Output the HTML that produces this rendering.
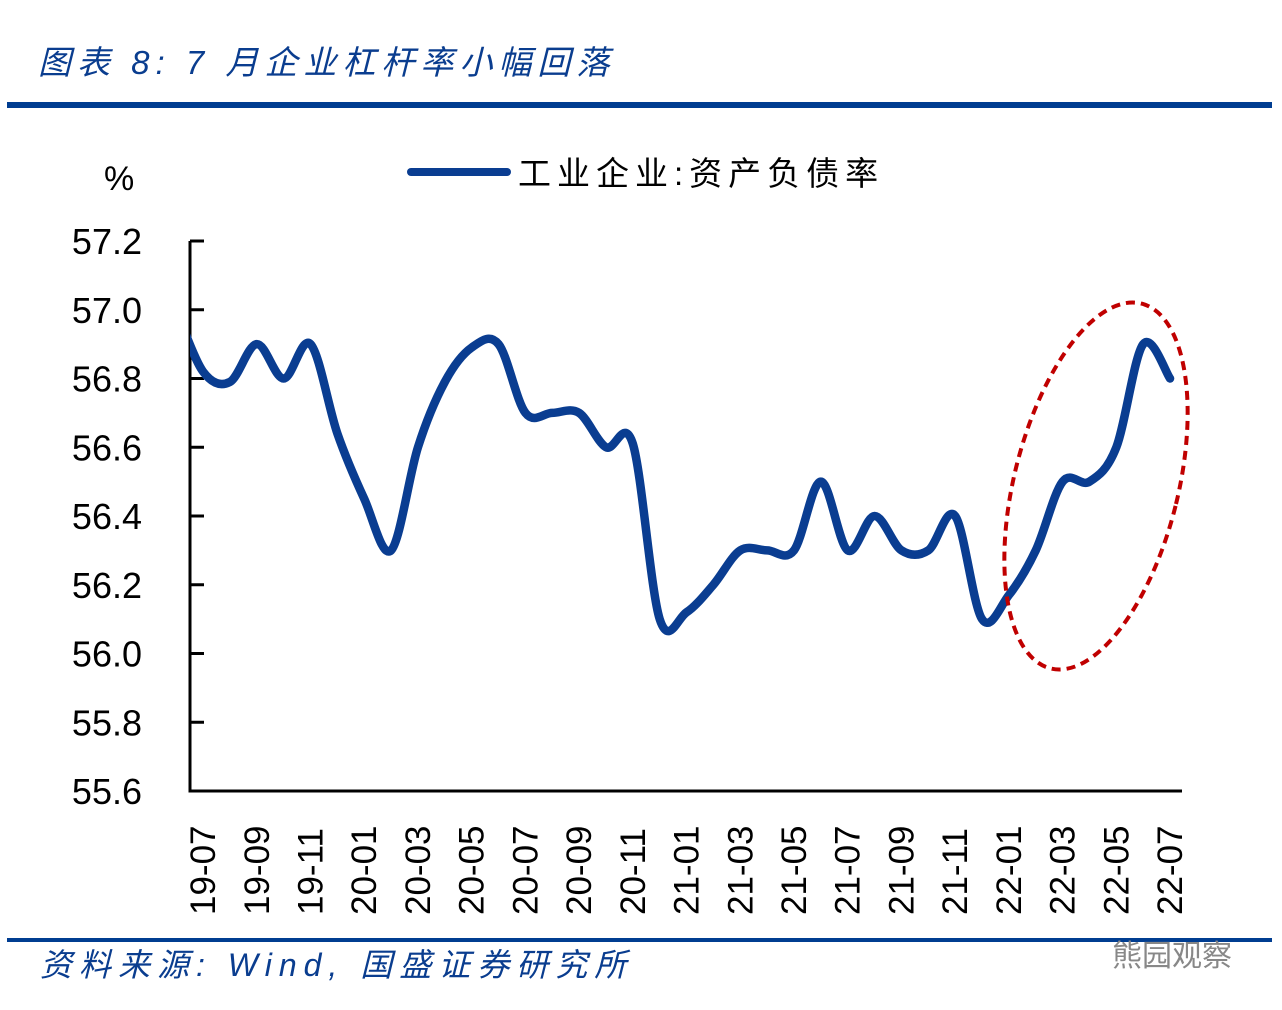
<!DOCTYPE html>
<html><head><meta charset="utf-8"><style>
html,body{margin:0;padding:0;background:#fff;width:1282px;height:1010px;overflow:hidden}
svg{display:block}
</style></head><body>
<svg id="chart" width="1282" height="1010" xmlns="http://www.w3.org/2000/svg">
<text x="38" y="74" font-size="33" font-style="italic" letter-spacing="6" fill="#0a3d8f" font-family="Liberation Sans, Noto Sans CJK SC, sans-serif">图表 8:  7 月企业杠杆率小幅回落</text>
<rect x="7" y="102" width="1265" height="6" fill="#003d91"/>
<text x="104" y="190" font-size="34" fill="#000" font-family="Liberation Sans, sans-serif">%</text>
<g>
<line x1="411" y1="172" x2="507" y2="172" stroke="#0a3d91" stroke-width="8" stroke-linecap="round"/>
<text x="518" y="185" font-size="33" letter-spacing="6" fill="#000" font-family="Liberation Sans, Noto Sans CJK SC, sans-serif">工业企业:资产负债率</text>
</g>
<g id="axes"></g>
<g id="plot"></g>
<ellipse cx="1096" cy="486" rx="82" ry="188" transform="rotate(14 1096 486)" fill="none" stroke="#c00000" stroke-width="4" stroke-dasharray="9,6"/>
<rect x="7" y="938" width="1265" height="4" fill="#003d91"/>
<text x="40" y="976" font-size="32" font-style="italic" letter-spacing="7" fill="#0a3d8f" font-family="Liberation Sans, Noto Sans CJK SC, sans-serif">资料来源:  Wind,  国盛证券研究所</text>
<text x="1112" y="966" font-size="30" fill="#888" font-family="Liberation Sans, Noto Sans CJK SC, sans-serif">熊园观察</text>
</svg>
<script>
const months = ["19-06","19-07","19-08","19-09","19-10","19-11","19-12","20-01","20-02","20-03","20-04","20-05","20-06","20-07","20-08","20-09","20-10","20-11","20-12","21-01","21-02","21-03","21-04","21-05","21-06","21-07","21-08","21-09","21-10","21-11","21-12","22-01","22-02","22-03","22-04","22-05","22-06","22-07"];
const values = [57.0,56.82,56.79,56.9,56.8,56.9,56.64,56.45,56.3,56.6,56.79,56.89,56.9,56.7,56.7,56.7,56.6,56.61,56.1,56.12,56.2,56.3,56.3,56.3,56.5,56.3,56.4,56.3,56.3,56.4,56.1,56.17,56.3,56.5,56.5,56.6,56.9,56.8];
const yTicks = [55.6,55.8,56.0,56.2,56.4,56.6,56.8,57.0,57.2];
const xLabels = ["19-07","19-09","19-11","20-01","20-03","20-05","20-07","20-09","20-11","21-01","21-03","21-05","21-07","21-09","21-11","22-01","22-03","22-05","22-07"];

const NS="http://www.w3.org/2000/svg";
const L=190,R=1182,T=241,B=791;
const x0=203-26.8, step=(1170-203)/36;
function xs(i){return x0+i*step;}
function xOf(m){return xs(months.indexOf(m));}
function ys(v){return B-(v-55.6)/(57.2-55.6)*(B-T);}
const axes=document.getElementById('axes'), plot=document.getElementById('plot');
function mk(t,a,p){const e=document.createElementNS(NS,t);for(const k in a)e.setAttribute(k,a[k]);p.appendChild(e);return e;}
const ya=mk('line',{x1:L,y1:T,x2:L,y2:B+1.5,stroke:'#000','stroke-width':3},axes);


const xa=mk('line',{x1:L-1.5,y1:B,x2:R,y2:B,stroke:'#000','stroke-width':3},axes);


yTicks.forEach(v=>{
  const y=ys(v);
  const tk=mk('line',{x1:L,y1:y,x2:L+14,y2:y,stroke:'#000','stroke-width':3},axes);
  
  
  const t=mk('text',{x:142,y:y+13,'text-anchor':'end','font-size':36,'font-family':'Liberation Sans, sans-serif',fill:'#000'},axes);
  t.textContent=v.toFixed(1);
  
  
});
xLabels.forEach(m=>{
  const x=xOf(m);
  const t=mk('text',{x:0,y:0,transform:`translate(${x+12},915) rotate(-90)`,'font-size':35,'font-family':'Liberation Sans, sans-serif',fill:'#000'},axes);
  t.textContent=m;
  
  
});
const pts=values.map((v,i)=>[xs(i),ys(v)]);
let d=`M${pts[0][0]},${pts[0][1]}`;
for(let i=0;i<pts.length-1;i++){
  const p0=pts[Math.max(0,i-1)],p1=pts[i],p2=pts[i+1],p3=pts[Math.min(pts.length-1,i+2)];
  const c1=[p1[0]+(p2[0]-p0[0])/6,p1[1]+(p2[1]-p0[1])/6];
  const c2=[p2[0]-(p3[0]-p1[0])/6,p2[1]-(p3[1]-p1[1])/6];
  d+=` C${c1[0]},${c1[1]} ${c2[0]},${c2[1]} ${p2[0]},${p2[1]}`;
}
const cp=mk('clipPath',{id:'clip'},plot);
mk('rect',{x:L,y:0,width:R-L,height:1000},cp);
const path=mk('path',{d:d,fill:'none',stroke:'#0a3d91','stroke-width':8.5,'stroke-linejoin':'round','stroke-linecap':'round','clip-path':'url(#clip)'},plot);


</script>
</body></html>
